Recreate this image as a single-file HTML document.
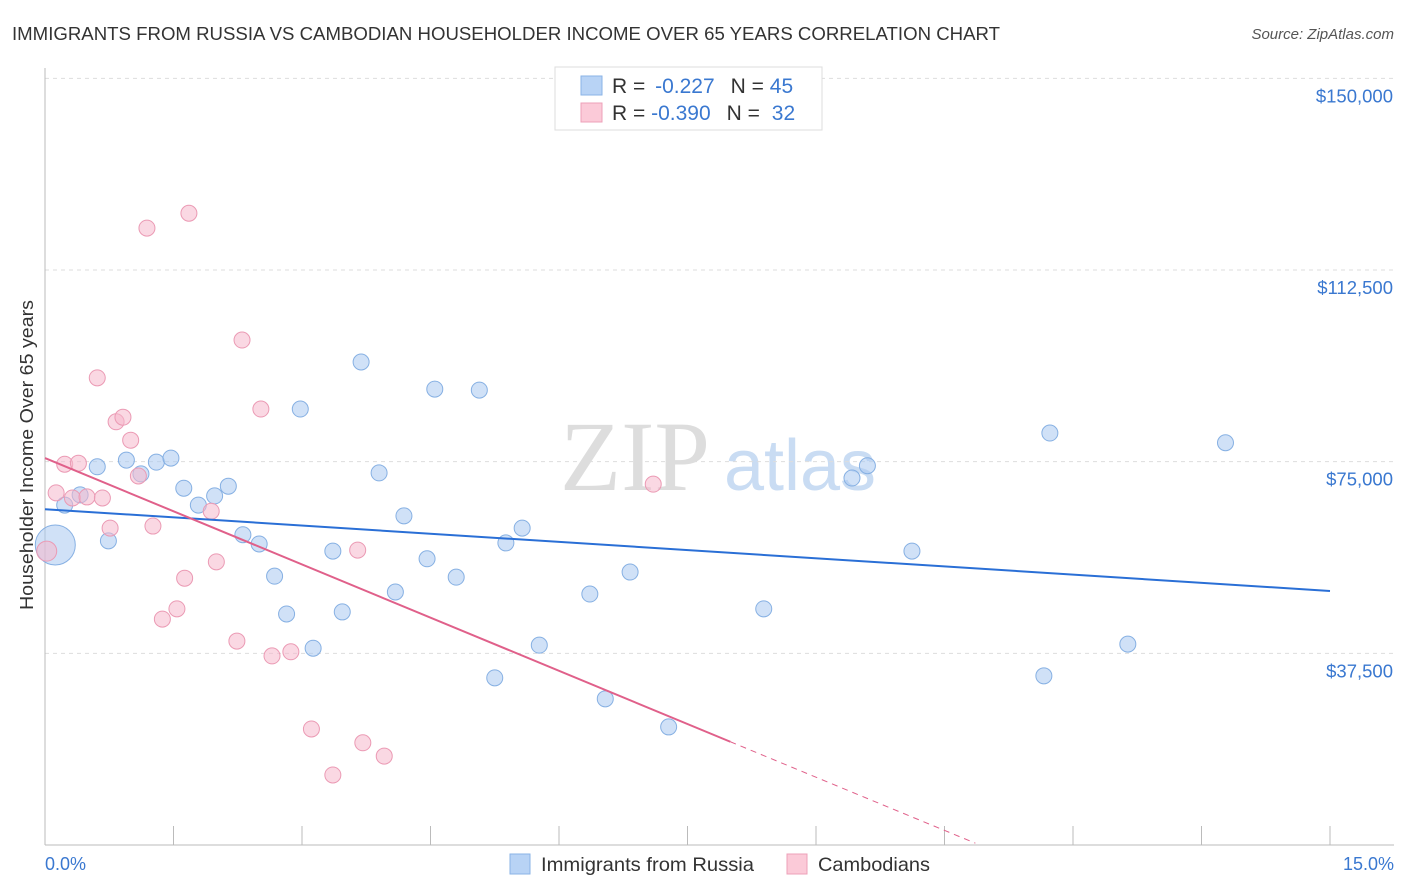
<!DOCTYPE html>
<html><head><meta charset="utf-8"><style>
body{margin:0;background:#fff;font-family:"Liberation Sans",sans-serif;}
#wrap{position:relative;width:1406px;height:892px;overflow:hidden;}
</style></head><body>
<div id="wrap">
<svg id="chart" width="1406" height="892">
<text x="12" y="40" font-size="18.5" fill="#333" textLength="988" lengthAdjust="spacingAndGlyphs">IMMIGRANTS FROM RUSSIA VS CAMBODIAN HOUSEHOLDER INCOME OVER 65 YEARS CORRELATION CHART</text>
<text x="1394" y="39" font-size="15" fill="#555" font-style="italic" text-anchor="end">Source: ZipAtlas.com</text>
<text x="635" y="490" font-size="100" fill="#ddd" font-family="Liberation Serif,serif" text-anchor="middle">ZIP</text>
<text x="800" y="490" font-size="72" fill="#c9dcf3" text-anchor="middle">atlas</text>
<text transform="translate(33,455) rotate(-90)" font-size="18.5" fill="#333" text-anchor="middle" textLength="310" lengthAdjust="spacingAndGlyphs">Householder Income Over 65 years</text>
<g id="grid"></g><g id="marks"></g>
<g>
<rect x="555" y="67" width="267" height="63" fill="#fff" stroke="#ddd"/>
<rect x="581" y="76" width="21" height="19" fill="#b8d3f5" stroke="#8ab3e6"/>
<rect x="581" y="103" width="21" height="19" fill="#fbcad8" stroke="#eea0b8"/>
<text x="612" y="93" font-size="21" fill="#333">R = <tspan fill="#3a78d0" dx="4">-0.227</tspan><tspan dx="16">N = </tspan><tspan fill="#3a78d0">45</tspan></text>
<text x="612" y="120" font-size="21" fill="#333">R = <tspan fill="#3a78d0">-0.390</tspan><tspan dx="16">N = </tspan><tspan fill="#3a78d0" dx="6">32</tspan></text>
</g>
<g>
<rect x="510" y="854" width="20" height="20" fill="#b8d3f5" stroke="#8ab3e6"/>
<text x="541" y="871" font-size="19.5" fill="#333" textLength="213" lengthAdjust="spacingAndGlyphs">Immigrants from Russia</text>
<rect x="787" y="854" width="20" height="20" fill="#fbcad8" stroke="#eea0b8"/>
<text x="818" y="871" font-size="19.5" fill="#333" textLength="112" lengthAdjust="spacingAndGlyphs">Cambodians</text>
</g>
<text x="45" y="870" font-size="18" fill="#3a78d0">0.0%</text>
<text x="1394" y="870" font-size="18" fill="#3a78d0" text-anchor="end">15.0%</text>
</svg>
</div>
<script>
const yTicks=[37500,75000,112500,150000];
const yTickLabels=["$37,500","$75,000","$112,500","$150,000"];
const xTicks=[0,1.5,3,4.5,6,7.5,9,10.5,12,13.5,15];
const russiaX=[0.12,0.23,0.41,0.61,0.74,0.95,1.12,1.30,1.47,1.62,1.79,1.98,2.14,2.31,2.50,2.68,2.82,2.98,3.13,3.36,3.47,3.69,3.90,4.09,4.19,4.46,4.55,4.80,5.07,5.25,5.38,5.57,5.77,6.36,6.54,6.83,7.28,8.39,9.42,9.60,10.12,11.66,11.73,12.64,13.78];
const russiaY=[58700,66500,68500,74000,59500,75300,72600,74900,75700,69800,66500,68300,70200,60700,58900,52600,45200,85300,38500,57500,45600,94500,72800,49500,64400,56000,89200,52400,89000,32700,59100,62000,39100,49100,28600,53400,23100,46200,71800,74200,57500,33100,80600,39300,78700];
const cambX=[0.02,0.13,0.23,0.32,0.39,0.49,0.61,0.67,0.76,0.83,0.91,1.00,1.09,1.19,1.26,1.37,1.54,1.63,1.68,1.94,2.00,2.24,2.30,2.52,2.65,2.87,3.11,3.36,3.65,3.71,3.96,7.10];
const cambY=[57500,68900,74500,67900,74700,68100,91400,67900,62000,82800,83700,79200,72200,120700,62400,44200,46200,52200,123600,65300,55400,39900,98800,85300,37000,37800,22700,13700,57700,20000,17400,70600];
const russiaTrend=[65700,49700];
const cambTrend=[75700,20200,8.0,10.86];
const X=v=>45+v/15*1285, Y=v=>845-v/37500*191.67;
const NS="http://www.w3.org/2000/svg";
function mk(tag,attrs,parent){const e=document.createElementNS(NS,tag);for(const k in attrs)e.setAttribute(k,attrs[k]);parent.appendChild(e);return e;}
const grid=document.getElementById('grid'), marks=document.getElementById('marks');
yTicks.forEach((t,i)=>{
 const l=mk('line',{x1:45,x2:1394,y1:Y(t),y2:Y(t),stroke:'#ddd','stroke-dasharray':'4,4'},grid);
 
 
 const tx=mk('text',{x:1393,y:Y(t)+24,'font-size':18.5,fill:'#3a78d0','text-anchor':'end'},grid);
 tx.textContent=yTickLabels[i];
 
 
});
const ax=mk('line',{x1:45,x2:1394,y1:845,y2:845,stroke:'#bbb'},grid);


const ay=mk('line',{x1:45,x2:45,y1:68,y2:845,stroke:'#bbb'},grid);


xTicks.forEach(t=>{
 const l=mk('line',{x1:X(t),x2:X(t),y1:826,y2:845,stroke:'#bbb'},grid);
 
 
});
russiaX.forEach((x,i)=>{
 const big=(i===0);
 const c=mk('circle',{cx:X(x),cy:Y(russiaY[i]),r:big?20:8,fill:'rgba(169,200,240,0.55)',stroke:'#86b0e3','stroke-width':1},marks);
 
 
});
cambX.forEach((x,i)=>{
 const c=mk('circle',{cx:X(x),cy:Y(cambY[i]),r:i===0?10:8,fill:'rgba(245,184,204,0.55)',stroke:'#eb9ab4','stroke-width':1},marks);
 
 
});
const rl=mk('line',{x1:X(0),y1:Y(russiaTrend[0]),x2:X(15),y2:Y(russiaTrend[1]),stroke:'#2a6fd6','stroke-width':2},marks);


const slope=(cambTrend[1]-cambTrend[0])/cambTrend[2];
const cl=mk('line',{x1:X(0),y1:Y(cambTrend[0]),x2:X(cambTrend[2]),y2:Y(cambTrend[1]),stroke:'#e0608a','stroke-width':2},marks);


const cd=mk('line',{x1:X(cambTrend[2]),y1:Y(cambTrend[1]),x2:X(cambTrend[3]),y2:Y(cambTrend[0]+slope*cambTrend[3]),stroke:'#e0608a','stroke-width':1,'stroke-dasharray':'6,5'},marks);


</script>
</body></html>
